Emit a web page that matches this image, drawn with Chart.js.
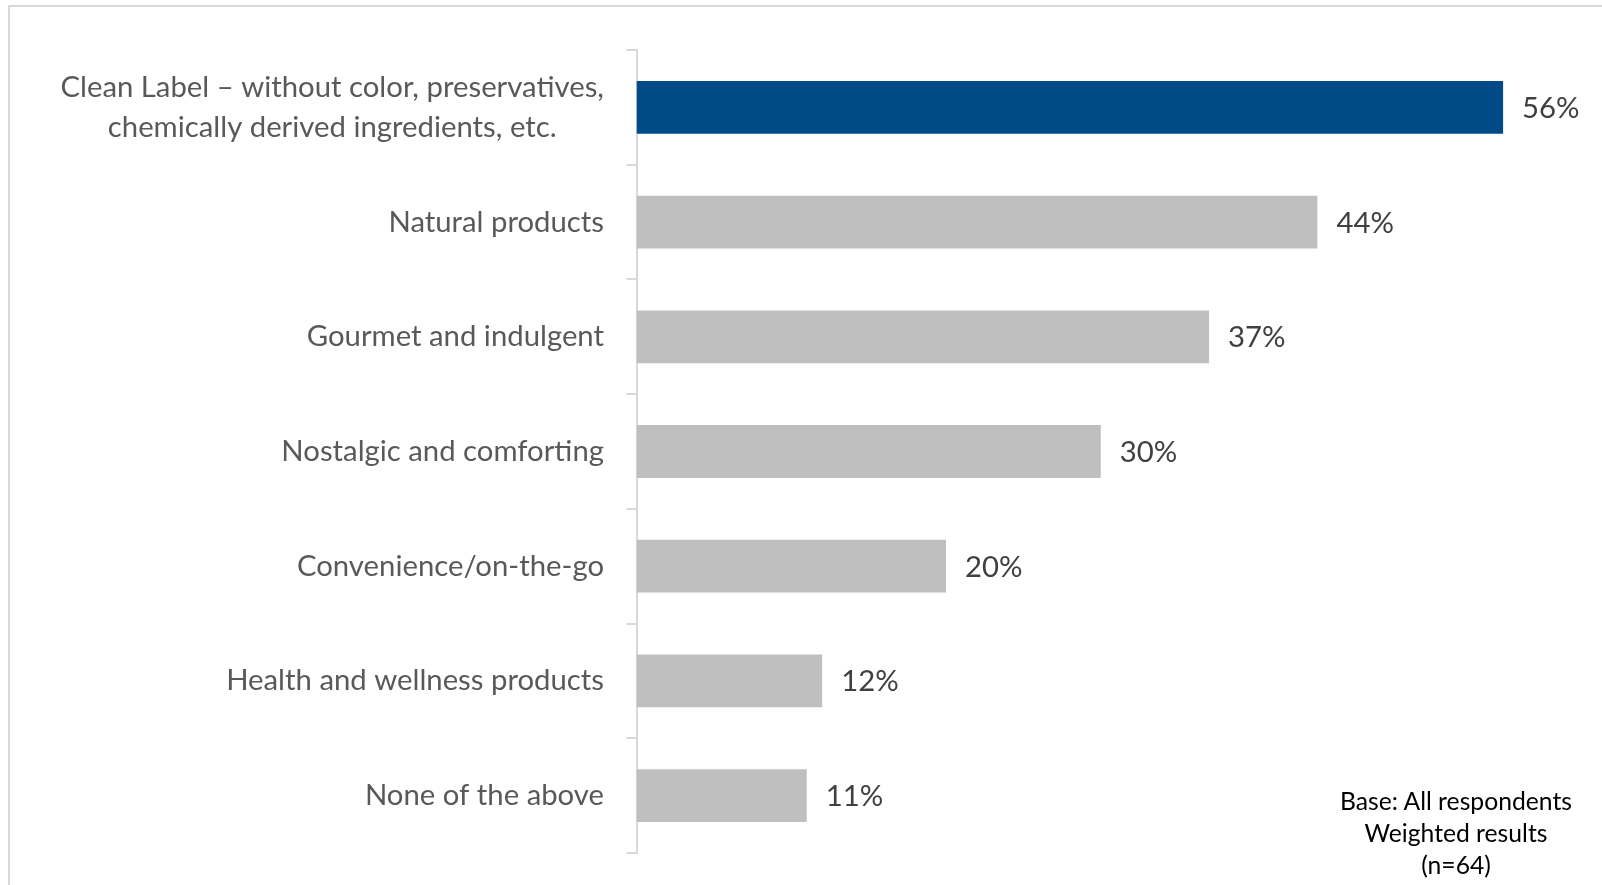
<!DOCTYPE html>
<html>
<head>
<meta charset="utf-8">
<script src="https://cdn.jsdelivr.net/npm/chart.js@4.4.1/dist/chart.umd.min.js"></script>
<style>
  html, body { margin: 0; padding: 0; background: #fff; overflow: hidden; }
  #frame {
    position: absolute; left: 8px; top: 5px; width: 1700px; height: 1000px;
    border: 2px solid #d9d9d9; box-sizing: border-box;
  }
  #chart-wrapper { position: absolute; left: 0; top: 0; width: 1602px; height: 885px; }
  #note {
    position: absolute; left: 1306px; top: 785px; width: 300px;
    text-align: center; font-family: Lato, sans-serif; font-size: 24.7px;
    line-height: 32px; color: #000;
  }
</style>
</head>
<body>
<div id="frame"></div>
<div id="chart-wrapper"><canvas id="chart" width="1602" height="885"></canvas></div>
<div id="note">Base: All respondents<br>Weighted results<br>(n=64)</div>
<script>
const categories = [
  ["Clean Label \u2013 without color, preservatives,", "chemically derived ingredients, etc."],
  ["Natural products"],
  ["Gourmet and indulgent"],
  ["Nostalgic and comforting"],
  ["Convenience/on-the-go"],
  ["Health and wellness products"],
  ["None of the above"]
];
const shares = [56, 44, 37, 30, 20, 12, 11];
const barColors = ["#004a87", "#bfbfbf", "#bfbfbf", "#bfbfbf", "#bfbfbf", "#bfbfbf", "#bfbfbf"];

const labelFont = "29.3px Lato, sans-serif";

// category labels: block right-aligned, lines centred within the block
const categoryLabels = {
  id: "categoryLabels",
  afterDraw(chart) {
    const ctx = chart.ctx;
    const yScale = chart.scales.y;
    ctx.save();
    ctx.font = labelFont;
    ctx.fillStyle = "#595959";
    ctx.textAlign = "center";
    ctx.textBaseline = "middle";
    const right = 604;
    const lineH = 40;
    categories.forEach((lines, i) => {
      const maxW = Math.max(...lines.map((l) => ctx.measureText(l).width));
      const cx = right - maxW / 2;
      const cy = yScale.getPixelForValue(i);
      lines.forEach((l, k) => {
        ctx.fillText(l, cx, cy + (k - (lines.length - 1) / 2) * lineH);
      });
    });
    ctx.restore();
  }
};

// value labels at the end of each bar
const valueLabels = {
  id: "valueLabels",
  afterDatasetsDraw(chart) {
    const ctx = chart.ctx;
    const meta = chart.getDatasetMeta(0);
    ctx.save();
    ctx.font = labelFont;
    ctx.fillStyle = "#404040";
    ctx.textAlign = "left";
    ctx.textBaseline = "middle";
    meta.data.forEach((bar, i) => {
      ctx.fillText(shares[i] + "%", bar.x + 19, bar.y + 1);
    });
    ctx.restore();
  }
};

new Chart(document.getElementById("chart").getContext("2d"), {
  type: "bar",
  data: {
    labels: categories,
    datasets: [{
      data: shares,
      backgroundColor: barColors,
      borderWidth: 0,
      barPercentage: 0.46,
      categoryPercentage: 1
    }]
  },
  options: {
    indexAxis: "y",
    responsive: false,
    animation: false,
    layout: { padding: { top: 50, bottom: 32, left: 0, right: 37 } },
    plugins: { legend: { display: false }, tooltip: { enabled: false } },
    scales: {
      x: { display: false, min: 0, max: 60 },
      y: {
        ticks: { display: false },
        grid: { drawOnChartArea: false, drawTicks: true, tickLength: 10, color: "#d9d9d9", lineWidth: 2 },
        border: { display: true, color: "#d9d9d9", width: 2 },
        afterFit(scale) { scale.width = 636.5; }
      }
    }
  },
  plugins: [categoryLabels, valueLabels]
});
</script>
</body>
</html>
